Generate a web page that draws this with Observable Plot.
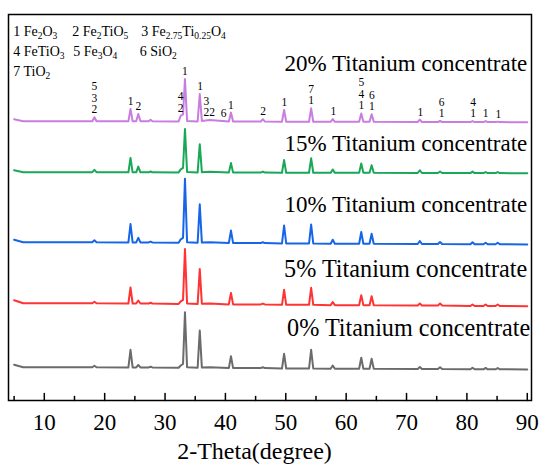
<!DOCTYPE html>
<html><head><meta charset="utf-8">
<script src="https://cdn.jsdelivr.net/npm/d3@7"></script>
<script src="https://cdn.jsdelivr.net/npm/@observablehq/plot@0.6"></script>
<style>html,body{margin:0;padding:0;background:#fff;}</style>
</head><body><div id="chart"></div>
<script>
// 2-theta sampling points (degrees), shared by all patterns
const theta = [5.0, 6.5, 12, 17.95, 18.3, 18.65, 23.93, 24.28, 24.63, 25.22, 25.57, 25.92, 27.3, 27.6, 27.9,
  32.25, 32.6, 32.98, 33.3, 33.65, 35.4, 35.75, 36.1, 37.4, 40.57, 40.92, 41.27, 45.85, 46.2, 46.55,
  49.37, 49.72, 50.07, 53.85, 54.2, 54.55, 57.43, 57.78, 58.13, 62.15, 62.5, 62.85, 63.87, 64.22, 64.57,
  71.85, 72.2, 72.55, 75.2, 75.55, 75.9, 80.58, 80.93, 81.28, 82.75, 83.1, 83.45, 84.75, 85.1, 85.45, 90];

// intensities (a.u.)
const i0 = [4.8, 2.3, 2.3, 2.3, 3.8, 2.3, 2.1, 19.7, 2.1, 2.1, 4.5, 2.1, 2.1, 2.8, 2.1,
  1.7, 4.0, 5.5, 57.3, 2.2, 1.7, 39, 1.9, 2.2, 1.4, 13.3, 1.4, 1.4, 2.2, 1.4,
  1.0, 15.7, 1.0, 1.0, 19.7, 1.0, 0.8, 4.0, 0.8, 0.8, 11.7, 0.8, 0.8, 10.7, 0.8,
  0.5, 2.5, 0.5, 0.5, 2.3, 0.5, 0.2, 1.8, 0.2, 0.2, 1.6, 0.2, 0.2, 1.5, 0.2, 0];
const i5 = [6, 3, 3, 3, 4.5, 3, 2.7, 18.7, 2.7, 2.7, 5.7, 2.7, 2.7, 3.4, 2.7,
  2.25, 4.75, 6.25, 57.25, 2.7, 2.25, 37.25, 2.5, 2.75, 1.8, 13.3, 1.8, 1.8, 2.6, 1.8,
  1.35, 16.35, 1.35, 1.35, 18.35, 1.35, 1.05, 4.05, 1.05, 1.05, 11.05, 1.05, 1.05, 10.05, 1.05,
  0.6, 2.6, 0.6, 0.6, 2.6, 0.6, 0.25, 1.75, 0.25, 0.25, 1.75, 0.25, 0.25, 1.75, 0.25, 0];
const i10 = [4.8, 2.3, 2.3, 2.3, 4.3, 2.3, 2.1, 20.4, 2.1, 2.1, 6.6, 2.1, 2.1, 2.9, 2.1,
  1.7, 5.2, 6.7, 65.7, 2.2, 1.7, 40.2, 1.9, 2.3, 1.4, 13.9, 1.4, 1.4, 2.2, 1.4,
  1.0, 19, 1.0, 1.0, 20, 1.0, 0.8, 4.8, 0.8, 0.8, 12.5, 0.8, 0.8, 10.8, 0.8,
  0.5, 3.5, 0.5, 0.5, 2.5, 0.5, 0.2, 2.2, 0.2, 0.2, 1.7, 0.2, 0.2, 1.7, 0.2, 0];
const i15 = [3, 1, 1, 1, 3.4, 1, 0.9, 15.3, 0.9, 0.9, 6.6, 0.9, 0.9, 1.7, 0.9,
  0.75, 3.75, 5.25, 44.25, 1.2, 0.75, 29.05, 1.0, 1.55, 0.6, 10.1, 0.6, 0.6, 1.6, 0.6,
  0.45, 13.15, 0.45, 0.45, 14.85, 0.45, 0.35, 3.75, 0.35, 0.35, 9.75, 0.35, 0.35, 8.05, 0.35,
  0.2, 2.9, 0.2, 0.2, 1.7, 0.2, 0.08, 1.58, 0.08, 0.08, 1.08, 0.08, 0.08, 1.08, 0.08, 0];
const i20 = [3, 1, 1, 1, 5, 1, 0.9, 13.3, 0.9, 0.9, 8.3, 0.9, 0.9, 2.4, 0.9,
  0.75, 6.45, 7.75, 43.25, 1.2, 0.75, 28.15, 1.2, 2.25, 0.6, 9.6, 0.6, 0.6, 3.0, 0.6,
  0.45, 12.15, 0.45, 0.45, 13.85, 0.45, 0.35, 3.05, 0.35, 0.35, 8.75, 0.35, 0.35, 8.05, 0.35,
  0.2, 2.6, 0.2, 0.2, 1.2, 0.2, 0.08, 1.08, 0.08, 0.08, 1.08, 0.08, 0.08, 0.58, 0.08, 0];

const seriesNames = ["0% Titanium concentrate", "5% Titanium concentrate", "10% Titanium concentrate",
  "15% Titanium concentrate", "20% Titanium concentrate"];
const seriesOffsets = [31, 94.3, 156, 227.3, 278.3];
const seriesColors = ["#6b6b6b", "#ff3333", "#1565e8", "#19a758", "#c97ddf"];

const majorTicks = [10, 20, 30, 40, 50, 60, 70, 80, 90];
const minorTicks = [5, 15, 25, 35, 45, 55, 65, 75, 85];

// phase labels on the 20% pattern
const annTheta = [18.3, 24.3, 25.6, 32.6, 33.3, 35.8, 36.85, 37.8, 39.7, 40.9, 46.25, 49.75, 54.2, 57.9,
  62.5, 64.25, 72.3, 75.8, 81.05, 83.1, 85.2];
const annText = ["5\n3\n2", "1", "2", "4\n2", "1", "1", "3\n2", "2", "6", "1", "2", "1", "7\n1", "1",
  "5\n4\n1", "6\n1", "1", "6\n1", "4\n1", "1", "1"];

const legendItems = [
  ["1 Fe_{2}O_{3}", "2 Fe_{2}TiO_{5}", "3 Fe_{2.75}Ti_{0.25}O_{4}"],
  ["4 FeTiO_{3}", "5 Fe_{3}O_{4}", "6 SiO_{2}"],
  ["7 TiO_{2}"]
];

const xLabel = "2-Theta(degree)";

// ---- build table
const seriesValues = [i0, i5, i10, i15, i20];
const rows = seriesValues.flatMap((vals, s) => theta.map((t, j) => ({
  theta: t, y: seriesOffsets[s] + vals[j], series: seriesNames[s]
})));

function topLevel(t) {
  let v = -Infinity;
  for (let j = 0; j < theta.length; j++) if (Math.abs(theta[j] - t) <= 0.25) v = Math.max(v, i20[j]);
  const j = Math.min(Math.max(d3.bisectRight(theta, t), 1), theta.length - 1);
  const a = theta[j - 1], b = theta[j];
  const interp = i20[j - 1] + (i20[j] - i20[j - 1]) * (t - a) / (b - a);
  return Math.max(v, interp);
}
const annRows = annTheta.map((t, k) => ({t, label: annText[k], y: seriesOffsets[4] + topLevel(t)}));

const tickShape = {draw(ctx, l) { ctx.moveTo(0, 0); ctx.lineTo(0, -l); }};

const nameLift = [33.3, 29.7, 32.3, 22.7, 51.7];
const nameSize = [24.2, 24.2, 23, 23, 23];
const nameDx = [3, 0, 0, 0, 0];
const legendColX = [[4.7, 63.7, 132.7], [4.7, 64.7, 131.3], [4.7]];

const marks = [
  Plot.frame({stroke: "black", strokeWidth: 1.5}),
  Plot.line(rows, {x: "theta", y: "y", z: "series", stroke: "series", strokeWidth: 2}),
  Plot.vector(majorTicks, {x: d => d, frameAnchor: "bottom", length: 7, anchor: "start", shape: tickShape, stroke: "black", strokeWidth: 1.5}),
  Plot.vector(minorTicks, {x: d => d, frameAnchor: "bottom", length: 4, anchor: "start", shape: tickShape, stroke: "black", strokeWidth: 1.5}),
  Plot.axisX({ticks: majorTicks, tickSize: 0, tickPadding: 13, fontSize: 23, tickFormat: d => String(d), label: null}),
  Plot.text([xLabel], {text: d => d, frameAnchor: "bottom", dy: 58, dx: -15.5, lineAnchor: "bottom", fontSize: 24}),
  Plot.text(annRows, {x: "t", y: "y", text: "label", lineAnchor: "bottom", dy: -4, fontSize: 11.5, lineHeight: 1.0})
];
seriesNames.forEach((n, i) => {
  marks.push(Plot.text([n], {text: d => d, x: () => 90, y: () => seriesOffsets[i], dy: -nameLift[i], dx: nameDx[i],
    textAnchor: "end", lineAnchor: "bottom", fontSize: nameSize[i]}));
});
legendItems.forEach((row, r) => row.forEach((item, c) => {
  marks.push(Plot.text([item], {text: d => d, frameAnchor: "top-left", dx: legendColX[r][c], dy: 21 + 20 * r,
    textAnchor: "start", lineAnchor: "bottom", fontSize: 14}));
}));

const chart = Plot.plot({
  width: 550, height: 474,
  marginLeft: 8, marginRight: 19, marginTop: 14, marginBottom: 74,
  style: {fontFamily: '"Liberation Serif", "Times New Roman", serif', background: "white", color: "black"},
  x: {domain: [4.07, 90.7]},
  y: {domain: [0, 386], axis: null},
  color: {domain: seriesNames, range: seriesColors},
  marks
});

// subscripts in the phase legend
d3.select(chart).selectAll("text").each(function () {
  const s = this.textContent;
  if (!s.includes("_{")) return;
  this.textContent = "";
  const parts = s.split(/(_\{[^}]*\})/);
  let shifted = false;
  for (const p of parts) {
    if (!p) continue;
    const t = document.createElementNS("http://www.w3.org/2000/svg", "tspan");
    if (p.startsWith("_{")) {
      t.textContent = p.slice(2, -1);
      t.setAttribute("font-size", "9.5");
      if (!shifted) { t.setAttribute("dy", "3"); shifted = true; }
    } else {
      t.textContent = p;
      if (shifted) { t.setAttribute("dy", "-3"); shifted = false; }
    }
    this.appendChild(t);
  }
});

document.getElementById("chart").appendChild(chart);
</script>
</body></html>
